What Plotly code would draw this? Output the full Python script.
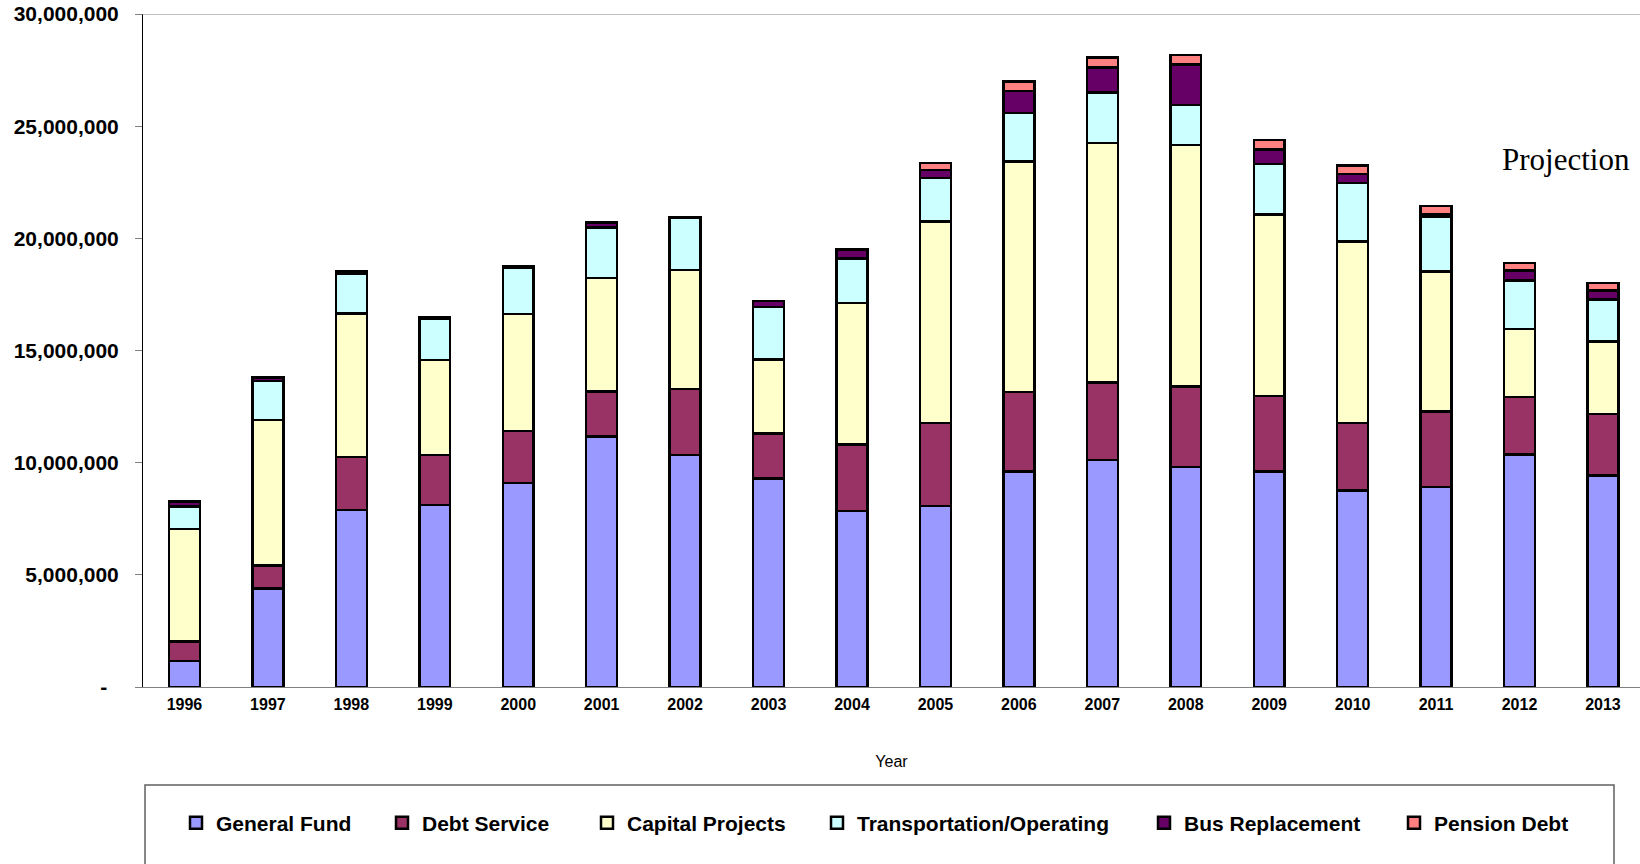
import plotly.graph_objects as go

years = ["1996", "1997", "1998", "1999", "2000", "2001", "2002", "2003", "2004",
         "2005", "2006", "2007", "2008", "2009", "2010", "2011", "2012", "2013"]

general_fund = [1.16, 4.40, 7.89, 8.11, 9.09, 11.16, 10.34, 9.30, 7.84,
                8.07, 9.61, 10.13, 9.80, 9.61, 8.77, 8.91, 10.36, 9.43]
debt_service = [0.86, 1.01, 2.36, 2.23, 2.32, 2.02, 2.95, 2.01, 2.98,
                3.69, 3.55, 3.45, 3.59, 3.36, 2.99, 3.36, 2.57, 2.75]
capital_projects = [5.02, 6.49, 6.39, 4.24, 5.21, 5.05, 5.30, 3.30, 6.29,
                    8.99, 10.26, 10.66, 10.77, 8.10, 8.09, 6.25, 3.03, 3.22]
transportation = [1.00, 1.74, 1.79, 1.83, 2.05, 2.26, 2.31, 2.34, 2.00,
                  1.93, 2.16, 2.26, 1.79, 2.25, 2.61, 2.45, 2.15, 1.87]
bus_replacement = [0.22, 0.16, 0.12, 0.06, 0.08, 0.21, 0.05, 0.25, 0.40,
                   0.37, 0.99, 1.11, 1.81, 0.65, 0.41, 0.12, 0.45, 0.40]
pension_debt = [0, 0, 0, 0, 0, 0, 0, 0, 0,
                0.30, 0.42, 0.45, 0.42, 0.42, 0.37, 0.35, 0.33, 0.33]

series = [
    ("General Fund", general_fund, "#9999FF"),
    ("Debt Service", debt_service, "#993366"),
    ("Capital Projects", capital_projects, "#FFFFCC"),
    ("Transportation/Operating", transportation, "#CCFFFF"),
    ("Bus Replacement", bus_replacement, "#660066"),
    ("Pension Debt", pension_debt, "#FF8080"),
]

y_tick_vals = [0, 5e6, 10e6, 15e6, 20e6, 25e6, 30e6]
y_tick_text = ["-\u00a0\u00a0", "5,000,000", "10,000,000", "15,000,000",
               "20,000,000", "25,000,000", "30,000,000"]

FONT = "Liberation Sans, Arial, sans-serif"
W, H = 1640, 864
L, R, T, B = 143, 0, 14, 177
PW = W - L - R
PH = H - T - B

legend_names = ["legend", "legend2", "legend3", "legend4", "legend5", "legend6"]
text_start_px = [216, 422, 627, 857, 1184, 1434]

fig = go.Figure()
for i, (name, vals, color) in enumerate(series):
    fig.add_trace(go.Bar(
        x=years, y=[v * 1e6 for v in vals], name=name,
        marker=dict(color=color, line=dict(color="black", width=2.5)),
        legend=legend_names[i],
    ))

layout_legends = {}
for i, ln in enumerate(legend_names):
    layout_legends[ln] = dict(
        orientation="h", x=(text_start_px[i] - 40 - L) / PW,
        y=-(823 - (T + PH)) / PH, xanchor="left", yanchor="middle",
        bgcolor="rgba(0,0,0,0)", borderwidth=0,
        font=dict(family=FONT, size=21, color="black", weight="bold"),
    )

fig.update_layout(
    width=W, height=H,
    margin=dict(l=L, r=R, t=T, b=B, pad=0),
    paper_bgcolor="white", plot_bgcolor="white",
    barmode="stack", bargap=0.63,
    showlegend=True,
    **layout_legends,
    xaxis=dict(
        type="category", range=[-0.497, 17.444],
        showline=True, linecolor="#808080", linewidth=1,
        ticks="", showgrid=False, zeroline=False,
        tickfont=dict(family=FONT, size=16, color="black", weight="bold"),
        ticklabelstandoff=3,
        title=dict(text="Year", font=dict(family=FONT, size=16, color="black"),
                   standoff=43),
    ),
    yaxis=dict(
        range=[0, 30e6], tickvals=y_tick_vals, ticktext=y_tick_text,
        showline=True, linecolor="black", linewidth=1,
        ticks="outside", ticklen=7, tickcolor="#808080", tickwidth=1,
        showgrid=False, zeroline=False,
        tickfont=dict(family=FONT, size=21, color="black", weight="bold"),
        ticklabelstandoff=12,
    ),
    shapes=[
        dict(type="line", xref="paper", yref="y", x0=-7 / PW, x1=1,
             y0=30e6, y1=30e6, line=dict(color="#808080", width=1)),
        dict(type="rect", xref="paper", yref="paper",
             x0=(145 - L) / PW, x1=(1614 - L) / PW,
             y0=-(785 - (T + PH)) / PH, y1=-(880 - (T + PH)) / PH,
             line=dict(color="#606060", width=1.5), fillcolor="rgba(0,0,0,0)"),
    ],
    annotations=[
        dict(text="Projection", xref="paper", yref="y",
             x=(1500 - L) / PW, y=23.5e6, xanchor="left", yanchor="middle",
             showarrow=False,
             font=dict(family="Liberation Serif, Times New Roman, serif",
                       size=31, color="black")),
    ],
)

fig.write_html("out.html")
